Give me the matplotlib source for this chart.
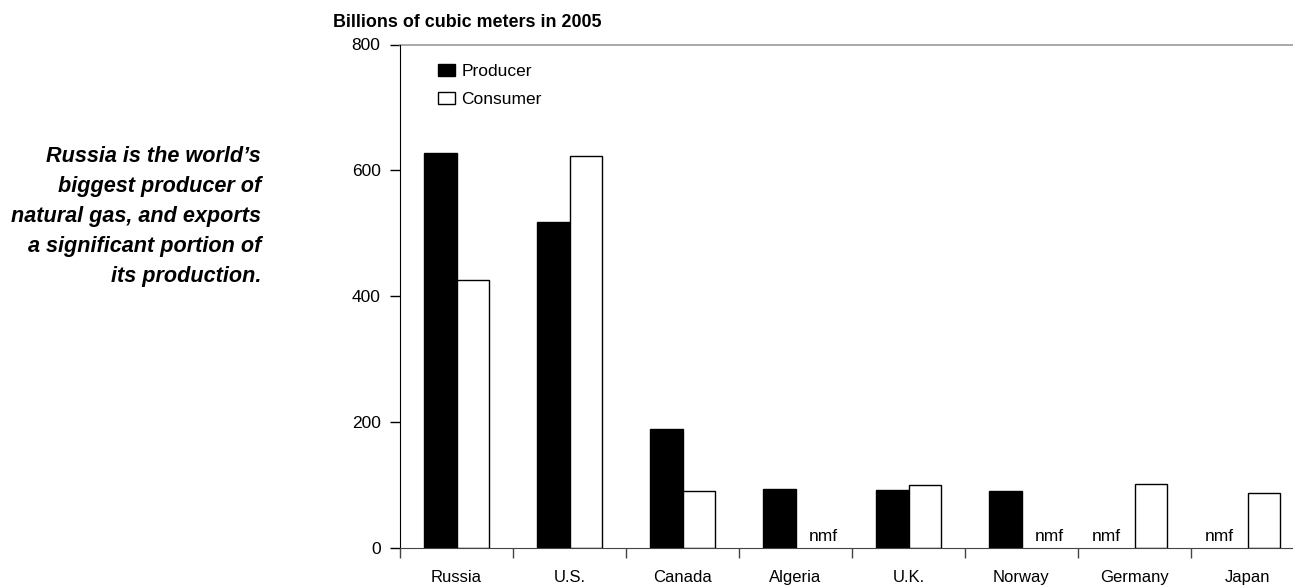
import matplotlib
matplotlib.use("Agg")
import matplotlib.pyplot as plt
import numpy as np
from matplotlib.patches import Patch

# Natural gas, billions of cubic meters in 2005 (nan = not meaningful)
countries = ["Russia", "U.S.", "Canada", "Algeria", "U.K.", "Norway", "Germany", "Japan"]
producer = [627, 518, 188, 93, 92, 90, np.nan, np.nan]
consumer = [425, 623, 90, np.nan, 99, np.nan, 101, 87]
y_ticks = [0, 200, 400, 600, 800]

SANS = ["Liberation Sans", "DejaVu Sans"]
W, H = 1293, 586

fig = plt.figure(figsize=(W / 100, H / 100), dpi=100)
ax = fig.add_axes([400 / W, 1 - 547.5 / H, 904 / W, 503 / H])

x = np.arange(len(countries))
bw = 0.29
ax.bar(x - bw / 2, np.array(producer), bw, color="black", edgecolor="black", linewidth=1)
ax.bar(x + bw / 2, np.array(consumer), bw, color="white", edgecolor="black", linewidth=1)

for i in range(len(countries)):
    if np.isnan(producer[i]):
        ax.text(x[i] - 0.25, 5, "nmf", ha="center", va="bottom", fontsize=12.5, family=SANS)
    if np.isnan(consumer[i]):
        ax.text(x[i] + 0.25, 5, "nmf", ha="center", va="bottom", fontsize=12.5, family=SANS)

ax.set_xlim(-0.5, len(countries) - 0.5)
ax.set_ylim(0, 800)
ax.set_yticks(y_ticks)
ax.set_yticklabels([str(v) for v in y_ticks], family=SANS, fontsize=12.5)

# category boundaries get the tick marks, names sit at the centres
ax.set_xticks(np.concatenate([[-0.5], x + 0.5]))
ax.set_xticklabels([])
ax.set_xticks(x, minor=True)
ax.set_xticklabels(countries, minor=True, family=SANS, fontsize=12)
ax.tick_params(axis="x", which="major", direction="out", length=7, width=1, color="#444444")
ax.tick_params(axis="x", which="minor", length=0, pad=16)
ax.tick_params(axis="y", direction="out", length=7, width=1, pad=7)

for side in ("top", "right"):
    ax.spines[side].set_visible(False)
ax.spines["left"].set_color("black")
ax.spines["bottom"].set_color("#444444")
ax.axhline(800, color="#999999", linewidth=1.2, clip_on=False)

fig.text(333 / W, 1 - 27 / H, "Billions of cubic meters in 2005", fontsize=12.9,
         fontweight="bold", family=SANS, ha="left", va="baseline")

handles = [Patch(facecolor="black", edgecolor="black", label="Producer"),
           Patch(facecolor="white", edgecolor="black", label="Consumer")]
fig.legend(handles=handles, loc="upper left", bbox_to_anchor=(438 / W, 1 - 64 / H),
           frameon=False, prop={"family": SANS, "size": 12.5},
           handlelength=1.0, handleheight=0.7, handletextpad=0.35,
           labelspacing=0.75, borderpad=0, borderaxespad=0)

note = ("Russia is the world\u2019s\nbiggest producer of\nnatural gas, and exports\n"
        "a significant portion of\nits production.")
fig.text(261 / W, 1 - 146 / H, note, fontsize=15.6, fontweight="bold", fontstyle="italic",
         family=SANS, ha="right", va="top", linespacing=1.57)

fig.savefig("out.png", dpi=100)
